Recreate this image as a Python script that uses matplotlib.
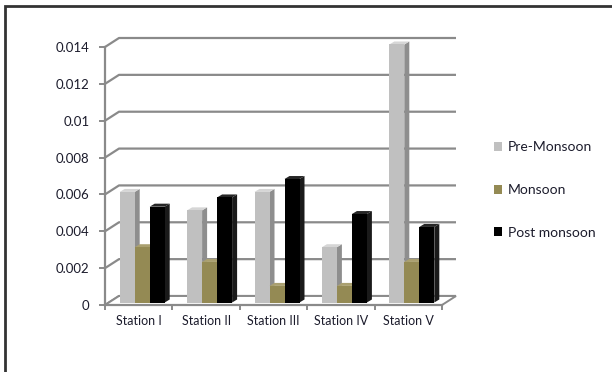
import numpy as np
import matplotlib
matplotlib.use('Agg')
import matplotlib.pyplot as plt
from matplotlib.patches import Rectangle, Patch

stations = ['Station I', 'Station II', 'Station III', 'Station IV', 'Station V']
series_names = ['Pre-Monsoon', 'Monsoon', 'Post monsoon']
pre_monsoon = [0.006, 0.005, 0.006, 0.003, 0.014]
monsoon = [0.003, 0.0022, 0.0009, 0.0009, 0.0022]
post_monsoon = [0.0052, 0.0057, 0.0067, 0.0048, 0.0041]
y_ticks = [0, 0.002, 0.004, 0.006, 0.008, 0.01, 0.012, 0.014]
y_tick_labels = ['0', '0.002', '0.004', '0.006', '0.008', '0.01', '0.012', '0.014']

# face / side / top colours for the fake 3d bars
face_cols = ['#c0c0c0', '#948a54', '#000000']
side_cols = ['#8e8e8e', '#6b6338', '#1a1a1a']
top_cols = ['#d6d6d6', '#aaa070', '#262626']
grid_col = '#8a8a8a'
text_col = '#1c1c2c'

plt.rcParams['font.family'] = ['Lato', 'DejaVu Sans']

W, H = 612, 372
fig = plt.figure(figsize=(W / 100, H / 100), dpi=100)

# front plane of the plot in pixels
x0_px, x1_px = 105, 442
y0_px, y1_px = 305, 47
ax = fig.add_axes([x0_px / W, (H - y0_px) / H, (x1_px - x0_px) / W, (y0_px - y1_px) / H])
ax.set_xlim(-0.5, len(stations) - 0.5)
ax.set_ylim(0, 0.014)

px_x = (x1_px - x0_px) / len(stations)      # pixels per x unit
px_y = (y0_px - y1_px) / 0.014               # pixels per y unit


def dxp(p):
    return p / px_x


def dyp(p):
    return p / px_y


# wall depth
WDX, WDY = dxp(14), dyp(9)
xl, xr = -0.5, len(stations) - 0.5

# back wall gridlines with the little diagonal from the front axis
for v in y_ticks:
    ax.plot([xl, xl + WDX, xr + WDX], [v, v + WDY, v + WDY], color=grid_col,
            lw=1.6, clip_on=False, zorder=1, solid_capstyle='butt')

# floor
ax.fill([xl, xr, xr + WDX, xl + WDX], [0, 0, WDY, WDY], facecolor='white',
        edgecolor=grid_col, lw=1.4, clip_on=False, zorder=1)

# bars
w = dxp(15)
shift = dxp(3.5)
b0 = dyp(2.5)
bdx, bdy = dxp(5), dyp(3)
all_vals = [pre_monsoon, monsoon, post_monsoon]
xs = np.arange(len(stations))
z = 2
for i in range(len(stations)):
    for s in range(3):
        v = all_vals[s][i]
        xc = xs[i] + shift + (s - 1) * w
        xa, xb = xc - w / 2, xc + w / 2
        top = b0 + v
        ax.fill([xb, xb + bdx, xb + bdx, xb], [b0, b0 + bdy, top + bdy, top],
                color=side_cols[s], clip_on=False, zorder=z, lw=0)
        ax.fill([xa, xb, xb + bdx, xa + bdx], [top, top, top + bdy, top + bdy],
                color=top_cols[s], clip_on=False, zorder=z, lw=0)
        ax.bar(xc, v, width=w, bottom=b0, color=face_cols[s], zorder=z + 1,
               linewidth=0, clip_on=False)
        z += 2

# axes styling
for sp in ['top', 'right']:
    ax.spines[sp].set_visible(False)
for sp in ['left', 'bottom']:
    ax.spines[sp].set_color(grid_col)
    ax.spines[sp].set_linewidth(1.6)
    ax.spines[sp].set_zorder(z + 1)
ax.set_yticks(y_ticks)
ax.set_yticklabels(y_tick_labels)
ax.set_xticks(np.arange(-0.5, len(stations), 1.0))
ax.set_xticklabels([])
ax.set_xticks(xs, minor=True)
ax.set_xticklabels(stations, minor=True)
ax.tick_params(axis='y', direction='out', length=4, width=1.4, color=grid_col,
               labelsize=9.5, labelcolor=text_col, pad=7)
ax.tick_params(axis='x', which='major', direction='out', length=3.5, width=1.4,
               color=grid_col)
ax.tick_params(axis='x', which='minor', length=0, labelsize=9, labelcolor=text_col, pad=7)
ax.patch.set_visible(False)

# legend
handles = [Patch(facecolor=c, edgecolor='none') for c in face_cols]
fig.legend(handles, series_names, loc='center left',
           bbox_to_anchor=(487 / W, 1 - 190 / H), frameon=False,
           fontsize=10, labelcolor=text_col, handlelength=0.6, handleheight=0.6,
           handletextpad=0.4, labelspacing=2.2, borderpad=0)

# outer frame of the chart area
fig.patches.append(Rectangle((5 / W, -0.1), 1.2, 1 - 6 / H + 0.1,
                             transform=fig.transFigure, fill=False,
                             edgecolor='#333333', lw=2.0, zorder=10))

fig.savefig('out.png', dpi=100)
